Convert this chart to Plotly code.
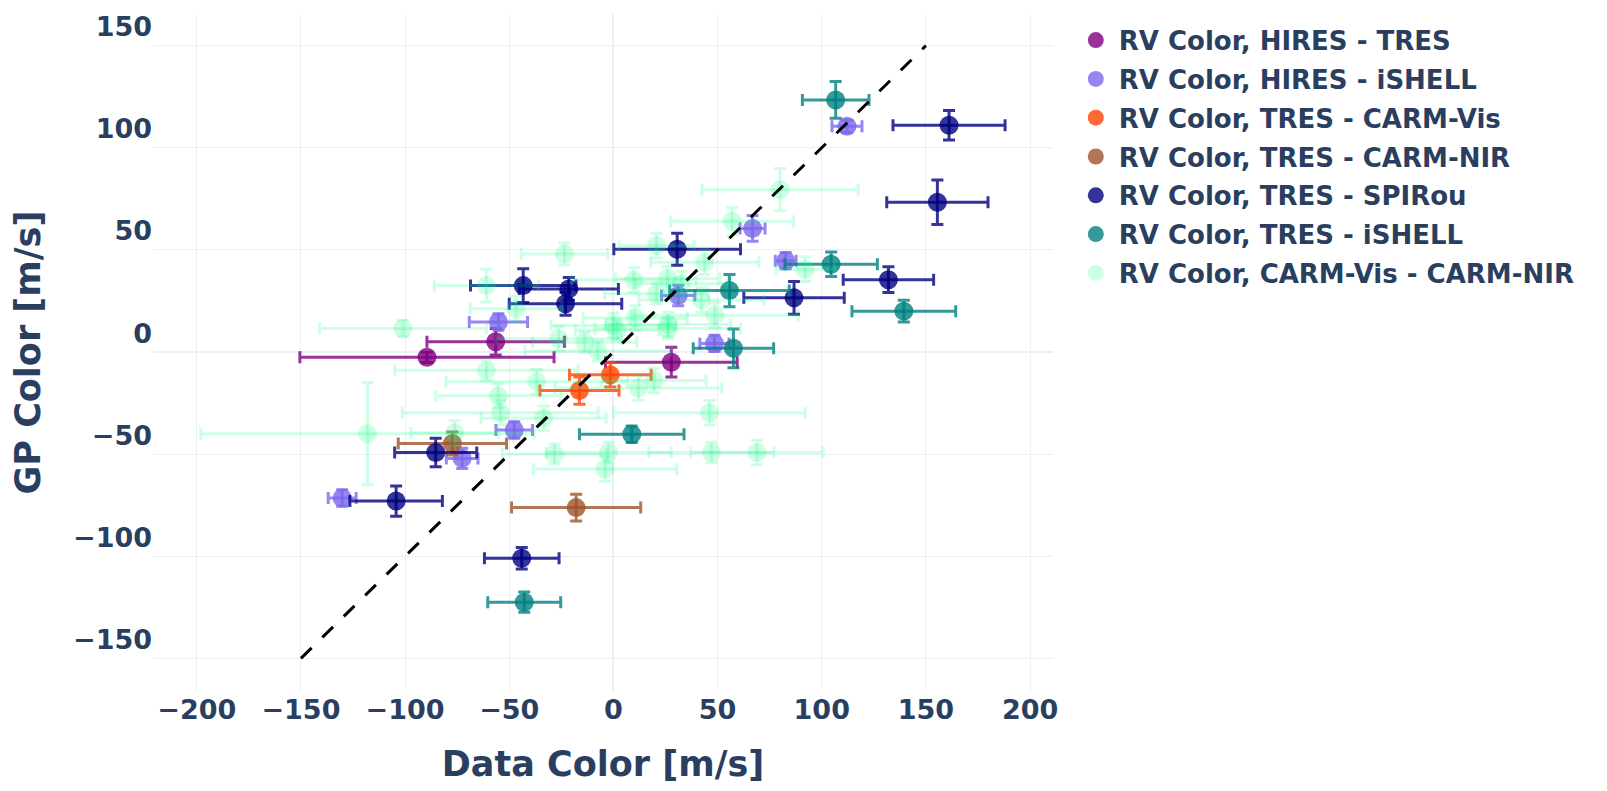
import plotly.graph_objects as go

# RV Color, HIRES - TRES
hires_tres_x = [-89.5, -56.5, 27.8]
hires_tres_y = [-2.6, 5.0, -5.0]
hires_tres_xerr = [61.0, 33.0, 31.6]
hires_tres_yerr = [2.5, 6.5, 7.3]

# RV Color, HIRES - iSHELL
hires_ishell_x = [112.1, 66.8, 82.7, 31.1, 48.5, -55.2, -47.6, -72.6, -130.2]
hires_ishell_y = [110.5, 60.5, 44.7, 27.7, 4.2, 14.7, -38.2, -52.1, -71.5]
hires_ishell_xerr = [7.2, 6.0, 5.0, 8.0, 7.0, 14.0, 8.8, 7.6, 6.7]
hires_ishell_yerr = [3.0, 6.3, 4.0, 5.0, 4.0, 4.0, 4.0, 5.0, 4.0]

# RV Color, TRES - CARM-Vis
tres_carmvis_x = [-1.5, -16.3]
tres_carmvis_y = [-11.2, -18.9]
tres_carmvis_xerr = [19.6, 19.0]
tres_carmvis_yerr = [6.0, 6.7]

# RV Color, TRES - CARM-NIR
tres_carmnir_x = [-77.3, -17.9]
tres_carmnir_y = [-44.8, -76.2]
tres_carmnir_xerr = [26.0, 31.0]
tres_carmnir_yerr = [5.6, 6.5]

# RV Color, TRES - SPIRou
tres_spirou_x = [161.1, 155.5, 30.6, 132.0, 86.7, -43.3, -21.4, -23.0, -85.3, -104.3, -44.0]
tres_spirou_y = [111.0, 73.3, 50.3, 35.4, 26.5, 32.5, 30.9, 23.6, -49.2, -73.0, -101.0]
tres_spirou_xerr = [26.9, 24.3, 30.4, 21.7, 24.1, 25.3, 23.8, 27.0, 19.7, 22.2, 17.9]
tres_spirou_yerr = [7.2, 10.9, 7.8, 6.3, 8.0, 8.3, 5.6, 5.6, 7.0, 7.4, 5.3]

# RV Color, TRES - iSHELL
tres_ishell_x = [106.7, 104.5, 55.7, 139.4, 57.6, 8.8, -42.8]
tres_ishell_y = [123.4, 43.0, 30.1, 20.0, 1.8, -40.3, -122.5]
tres_ishell_xerr = [16.0, 22.2, 28.7, 24.9, 19.3, 25.1, 17.5]
tres_ishell_yerr = [9.0, 6.0, 7.9, 5.3, 9.5, 4.0, 5.0]

# RV Color, CARM-Vis - CARM-NIR
carm_x = [80.0, 57.0, 20.7, 43.8, 92.0, -23.5, -61.0, 9.8, 26.0, 32.7,
          42.2, 20.7, -46.8, 0.0, 10.4, 26.3, 48.7, -26.3, -13.8, -7.5,
          1.7, -101.0, -61.0, -36.8, -55.3, -54.3, -33.5, -76.2, -118.0, -28.3,
          -2.3, -4.0, 12.0, 19.5, 46.1, 47.0, 68.9, 26.0]
carm_y = [79.5, 64.0, 52.0, 44.0, 40.5, 48.0, 32.5, 35.2, 36.0, 33.4,
          25.5, 28.5, 21.2, 13.0, 16.7, 13.5, 18.0, 6.5, 4.8, 0.5,
          10.7, 11.5, -9.0, -14.6, -21.4, -29.8, -32.5, -39.5, -40.0, -50.0,
          -49.2, -57.3, -17.6, -14.0, -29.8, -49.2, -49.2, 11.5]
carm_xerr = [37.5, 29.5, 18.0, 26.0, 14.0, 20.7, 25.0, 30.0, 25.0, 22.0,
             30.0, 25.0, 22.0, 30.0, 25.0, 30.0, 40.0, 30.0, 25.0, 35.0,
             20.0, 40.0, 44.0, 43.6, 30.0, 47.0, 30.0, 21.0, 80.0, 25.0,
             30.0, 34.4, 40.0, 25.0, 46.0, 30.0, 31.8, 35.0]
carm_yerr = [10.3, 6.8, 6.0, 6.0, 6.0, 5.4, 8.0, 6.0, 6.0, 6.0,
             6.0, 5.0, 6.0, 6.0, 6.0, 6.0, 6.0, 6.0, 5.0, 5.0,
             5.0, 4.0, 5.0, 6.0, 6.0, 6.0, 6.0, 6.0, 25.0, 5.0,
             5.0, 6.0, 6.0, 6.0, 6.0, 5.0, 6.0, 5.0]

one_to_one = [-150, 150]

series = [
    ("RV Color, HIRES - TRES", hires_tres_x, hires_tres_y, hires_tres_xerr, hires_tres_yerr, "rgba(128,0,128,0.8)"),
    ("RV Color, HIRES - iSHELL", hires_ishell_x, hires_ishell_y, hires_ishell_xerr, hires_ishell_yerr, "rgba(123,104,238,0.8)"),
    ("RV Color, TRES - CARM-Vis", tres_carmvis_x, tres_carmvis_y, tres_carmvis_xerr, tres_carmvis_yerr, "rgba(255,69,0,0.8)"),
    ("RV Color, TRES - CARM-NIR", tres_carmnir_x, tres_carmnir_y, tres_carmnir_xerr, tres_carmnir_yerr, "rgba(160,82,45,0.8)"),
    ("RV Color, TRES - SPIRou", tres_spirou_x, tres_spirou_y, tres_spirou_xerr, tres_spirou_yerr, "rgba(0,0,128,0.8)"),
    ("RV Color, TRES - iSHELL", tres_ishell_x, tres_ishell_y, tres_ishell_xerr, tres_ishell_yerr, "rgba(0,128,128,0.8)"),
    ("RV Color, CARM-Vis - CARM-NIR", carm_x, carm_y, carm_xerr, carm_yerr, "rgba(0,255,127,0.2)"),
]

fig = go.Figure()

for name, xs, ys, xe, ye, col in series:
    fig.add_trace(go.Scatter(
        x=xs, y=ys, mode="markers", name=name, legendgroup=name,
        marker=dict(color=col, size=19),
        error_x=dict(type="data", array=xe, color=col, thickness=3, width=6),
        error_y=dict(type="data", array=ye, color=col, thickness=3, width=6),
    ))

# 1:1 line
fig.add_trace(go.Scatter(x=one_to_one, y=one_to_one, mode="lines", showlegend=False,
                         line=dict(color="black", width=3, dash="longdash")))

fig.update_layout(
    template="plotly_white",
    width=1607, height=791,
    font=dict(family="Verdana, DejaVu Sans", size=27, color="#2a3f5f", weight="bold"),
    margin=dict(l=145, r=562, t=3, b=108),
    legend=dict(font=dict(size=26), x=1.022, y=0.996, tracegroupgap=2, itemwidth=36),
    xaxis=dict(title=dict(text="Data Color [m/s]", font=dict(size=35), standoff=27),
               range=[-221, 211]),
    yaxis=dict(title=dict(text="GP Color [m/s]", font=dict(size=35), standoff=30),
               range=[-166, 165.5], ticklabelposition="outside top"),
)

fig.write_html("out.html")
